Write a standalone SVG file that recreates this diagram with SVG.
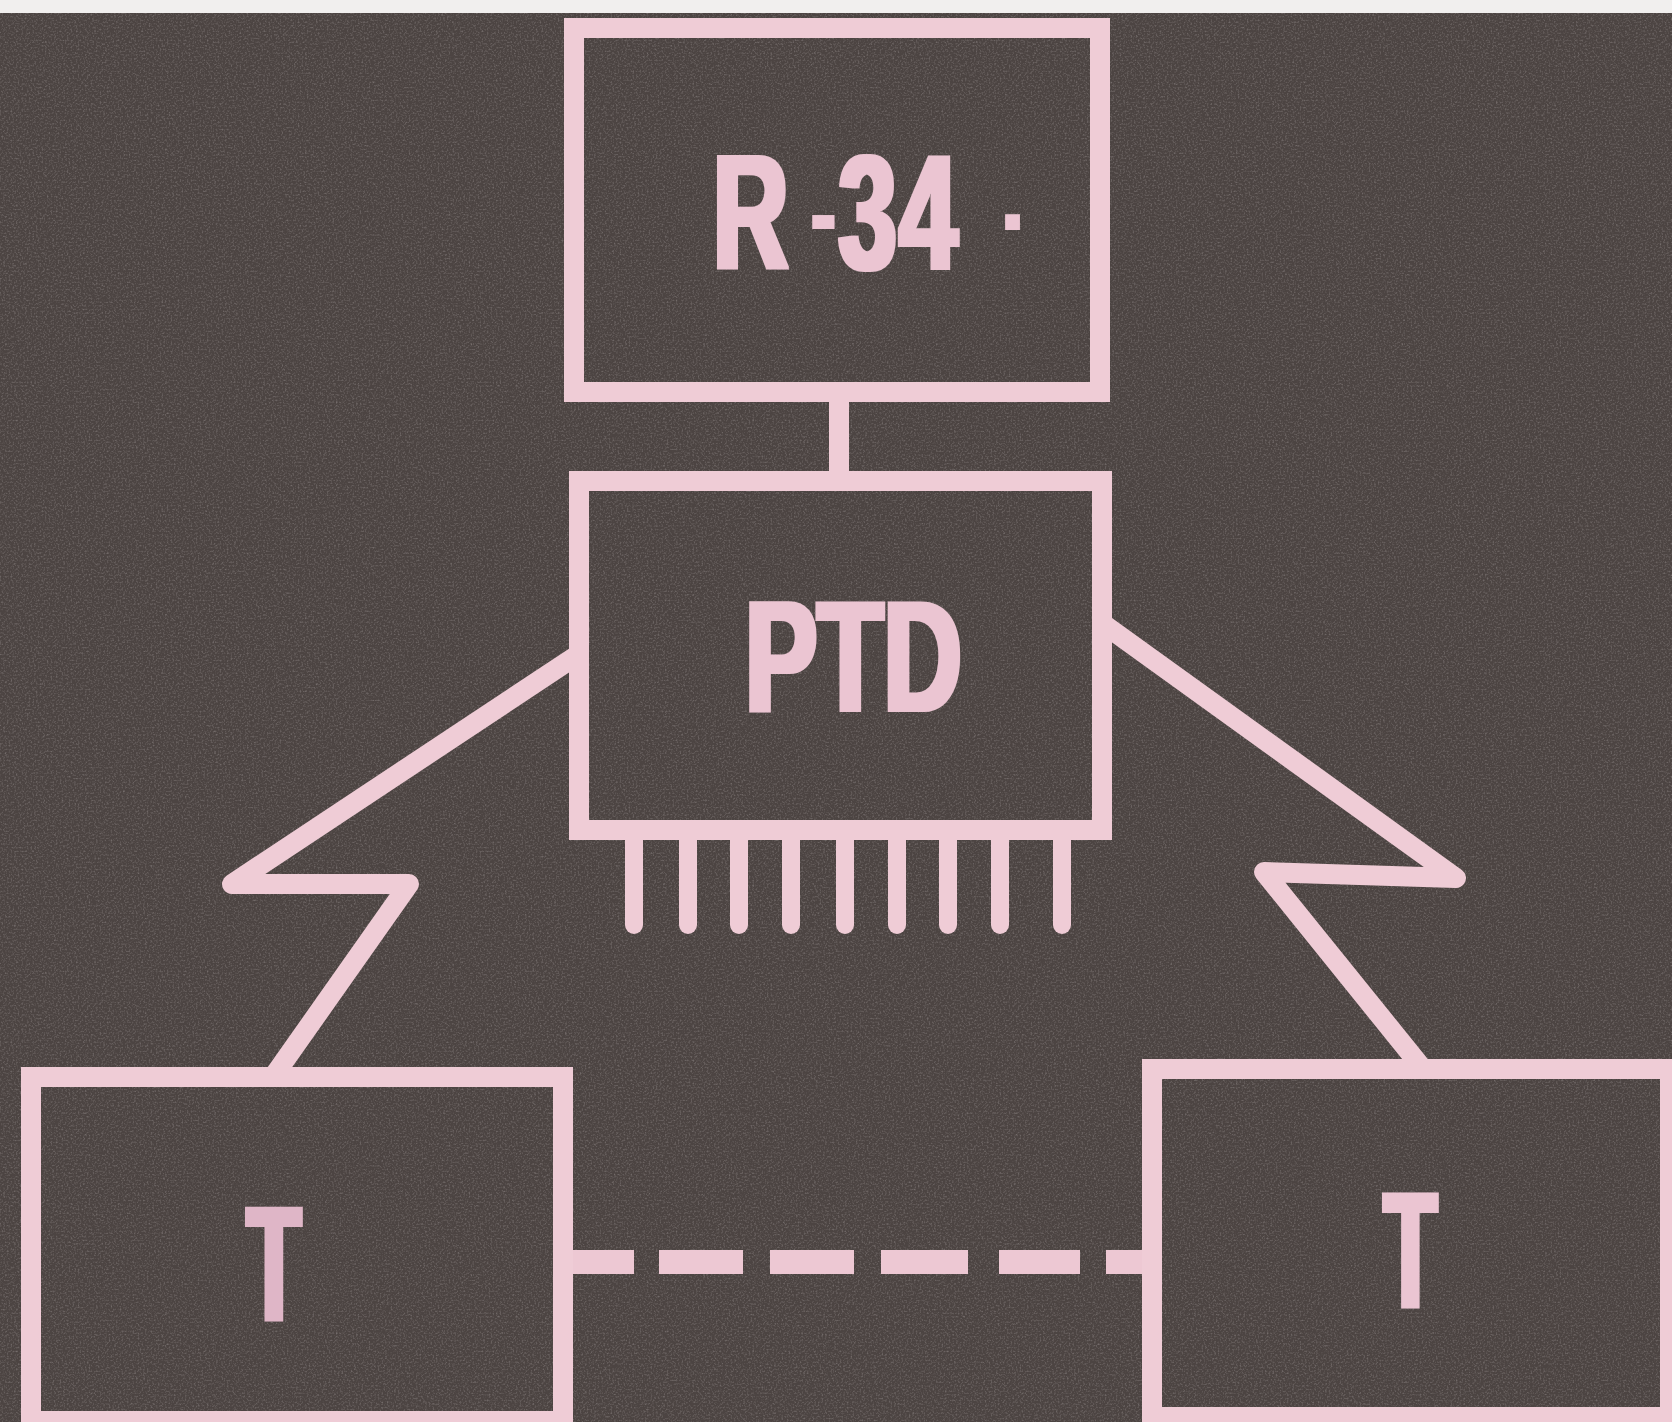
<svg xmlns="http://www.w3.org/2000/svg" width="1672" height="1422" viewBox="0 0 1672 1422">
  <defs>
    <style>
      .ln { fill: none; stroke: #efccd6; stroke-width: 20; stroke-linejoin: round; }
      .box { fill: none; stroke: #efccd6; stroke-width: 20; stroke-linejoin: miter; }
      .pin { stroke: #efccd6; stroke-width: 18; stroke-linecap: round; }
      .dash { stroke: #edc8d3; stroke-width: 24; stroke-linecap: butt; }
      .lbl { font-family: "Liberation Sans", Arial, sans-serif; font-weight: bold; fill: #ebc5d2; }
      .heavy { filter: url(#heavy); }
    </style>
    <filter id="grain" x="0" y="0" width="100%" height="100%">
      <feTurbulence type="fractalNoise" baseFrequency="0.55" numOctaves="2" seed="7" result="n"/>
      <feColorMatrix type="matrix" values="0 0 0 0 0.85  0 0 0 0 0.8  0 0 0 0 0.8  0 0 0 1.6 -0.75"/>
    </filter>
    <filter id="heavy" x="-20%" y="-20%" width="140%" height="140%">
      <feMorphology operator="dilate" radius="5 1"/>
    </filter>
  </defs>

  <rect x="0" y="0" width="1672" height="1422" fill="#4c4442"/>
  <rect x="0" y="0" width="1672" height="1422" filter="url(#grain)" opacity="0.35"/>
  <rect x="0" y="0" width="1672" height="13" fill="#f1efee"/>

  <g id="connectors">
    <line class="ln" x1="839" y1="392" x2="839" y2="481"/>
    <polyline class="ln" points="579,654 232,884 409,884 273,1077"/>
    <polyline class="ln" points="1102,623 1456,878 1264,872 1423,1069"/>
    <line class="dash" x1="563" y1="1262" x2="634" y2="1262"/>
    <line class="dash" x1="659" y1="1262" x2="743" y2="1262"/>
    <line class="dash" x1="770" y1="1262" x2="854" y2="1262"/>
    <line class="dash" x1="881" y1="1262" x2="968" y2="1262"/>
    <line class="dash" x1="999" y1="1262" x2="1080" y2="1262"/>
    <line class="dash" x1="1106" y1="1262" x2="1152" y2="1262"/>
  </g>

  <g id="node-r34">
    <rect class="box" x="574" y="28" width="526" height="364"/>
    <text class="lbl heavy" transform="translate(713,269) scale(0.64,1)" font-size="163"><tspan x="0" y="0">R</tspan><tspan x="156" y="-21" font-size="100">-</tspan><tspan x="196 291" y="0">34</tspan></text>
    <text class="lbl" x="998" y="230" font-size="105">.</text>
  </g>

  <g id="node-ptd">
    <rect class="box" x="579" y="481" width="523" height="349"/>
    <line class="pin" x1="634" y1="830" x2="634" y2="925"/>
    <line class="pin" x1="688" y1="830" x2="688" y2="925"/>
    <line class="pin" x1="739" y1="830" x2="739" y2="925"/>
    <line class="pin" x1="791" y1="830" x2="791" y2="925"/>
    <line class="pin" x1="845" y1="830" x2="845" y2="925"/>
    <line class="pin" x1="897" y1="830" x2="897" y2="925"/>
    <line class="pin" x1="948" y1="830" x2="948" y2="925"/>
    <line class="pin" x1="1000" y1="830" x2="1000" y2="925"/>
    <line class="pin" x1="1062" y1="830" x2="1062" y2="925"/>
    <text class="lbl heavy" transform="translate(745,711) scale(0.69,1)" x="0" y="0" font-size="157">PTD</text>
  </g>

  <g id="node-t-left">
    <rect class="box" x="31" y="1077" width="532" height="344"/>
    <text class="lbl heavy" transform="translate(247,1320) scale(0.54,1)" x="0" y="0" font-size="163" style="fill:#dfb6c7">T</text>
  </g>

  <g id="node-t-right">
    <rect class="box" x="1152" y="1069" width="518" height="348"/>
    <text class="lbl heavy" transform="translate(1384,1307) scale(0.52,1)" x="0" y="0" font-size="166">T</text>
  </g>
</svg>
